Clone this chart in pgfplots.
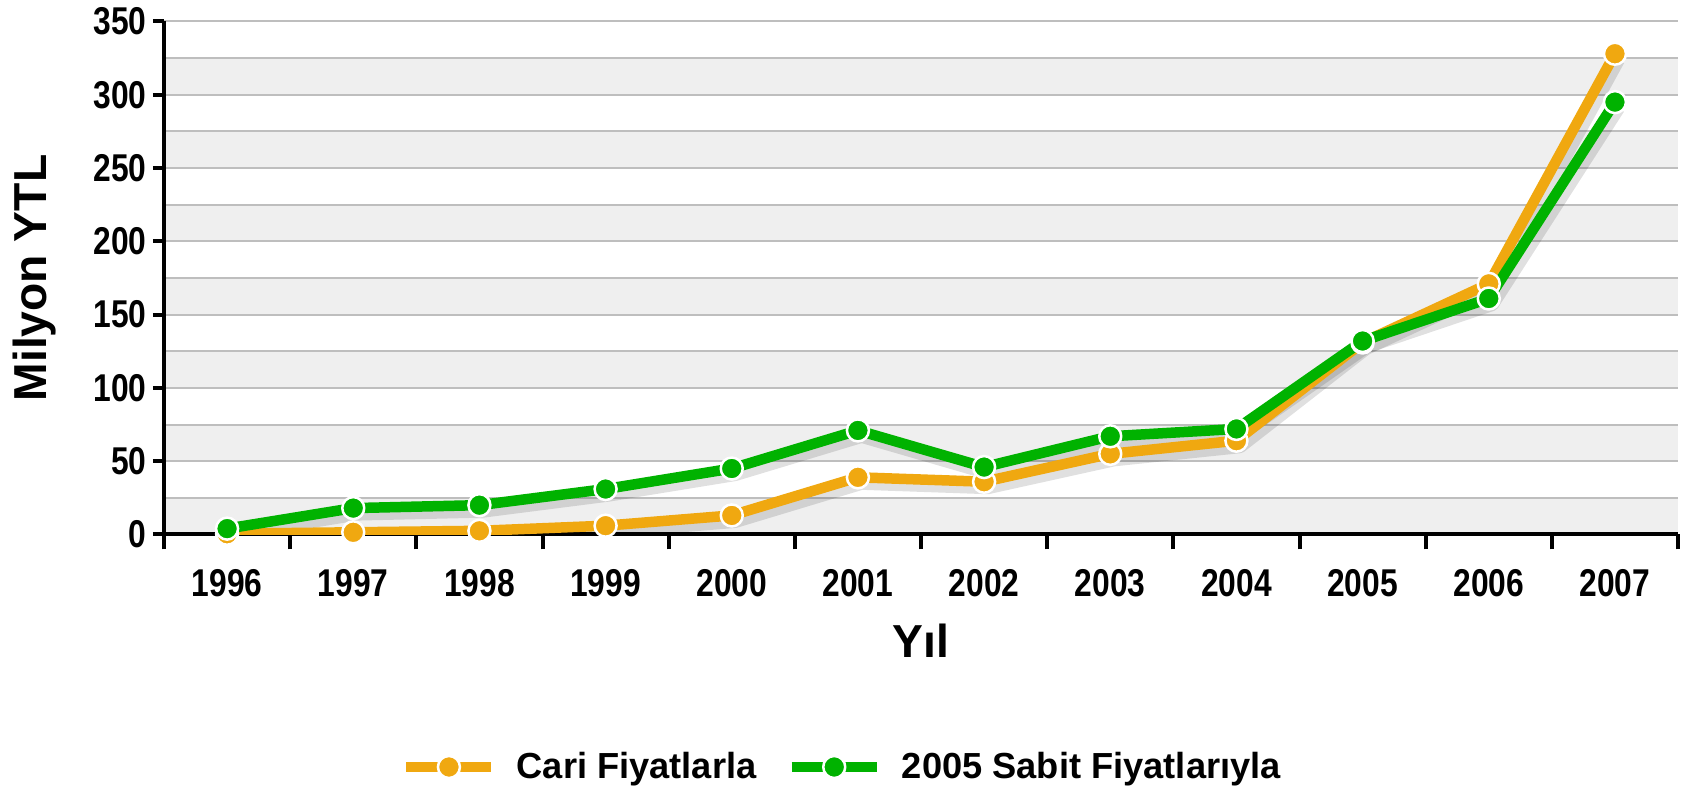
\documentclass[border=0pt]{standalone}
\usepackage{fontspec}
\setmainfont{Liberation Sans}[FakeStretch=0.82]
\newfontfamily\plainfont{Liberation Sans}
\usepackage{pgfplots}
\usepackage{pgfplotstable}
\pgfplotsset{compat=1.18}

\definecolor{cari}{RGB}{240,168,16}
\definecolor{sabit}{RGB}{0,178,0}
\definecolor{band}{RGB}{239,239,239}
\definecolor{gridc}{RGB}{190,190,190}

% x: 0 = 1996 ... 11 = 2007
\pgfplotstableread{
x y
0 0.5
1 1.5
2 2.5
3 6
4 13
5 39
6 36
7 55
8 64
9 131
10 171
11 328
}\cari

\pgfplotstableread{
x y
0 4
1 18
2 20
3 31
4 45
5 71
6 46
7 67
8 72
9 132
10 161
11 295
}\sabit

\begin{document}
\begin{tikzpicture}
\begin{axis}[
  set layers,
  scale only axis,
  width=605.6pt, height=205.2pt,
  xmin=-0.5, xmax=11.5,
  ymin=0, ymax=350,
  axis lines*=left,
  axis line style={line width=1.6pt, black},
  xtick={0,...,11},
  xticklabels={1996,1997,1998,1999,2000,2001,2002,2003,2004,2005,2006,2007},
  minor xtick={-0.5,0.5,...,11.5},
  major x tick style={draw=none},
  minor x tick style={line width=1.6pt, black},
  minor tick length=6pt,
  ytick={0,50,...,350},
  y tick style={line width=1.6pt, black},
  major tick length=4.5pt,
  tick align=outside,
  ymajorgrids,
  extra y ticks={25,75,...,325},
  extra y tick labels={},
  extra y tick style={major tick length=0pt, grid=major},
  grid style={gridc, line width=0.8pt},
  /pgf/number format/assume math mode=true,
  ticklabel style={font=\bfseries\fontsize{15.5}{18}\selectfont},
  xticklabel shift=6pt,
  yticklabel shift=-1pt,
  xlabel={Yıl},
  ylabel={Milyon YTL},
  every axis x label/.style={at={(axis description cs:0.5,0)}, anchor=center, yshift=-42.6pt,
    font=\plainfont\bfseries\fontsize{18.5}{21}\selectfont},
  every axis y label/.style={at={(axis description cs:-0.0852,0.5)}, rotate=90, anchor=center,
    font=\plainfont\bfseries\fontsize{18.5}{21}\selectfont},
  legend columns=2,
  legend style={at={(0.5,0)}, anchor=center, xshift=-31pt, yshift=-93pt, draw=none, fill=none,
    font=\plainfont\bfseries\fontsize{14.5}{17}\selectfont,
    /tikz/every odd column/.append style={column sep=6pt},
    /tikz/every even column/.append style={column sep=10pt}},
  legend image code/.code={\draw[mark repeat=2, mark phase=2, #1] plot coordinates {(0pt,0pt) (17pt,0pt) (34pt,0pt)};},
  every axis plot/.append style={line width=4.2pt, mark=*, mark size=4.4pt, line join=round},
]
\begin{pgfonlayer}{axis background}
\pgfplotsinvokeforeach{0,50,...,300}{
  \fill[band] (axis cs:-0.5,#1) rectangle (axis cs:11.5,#1+25);
}
\end{pgfonlayer}

% soft shadows
\addplot[black, opacity=0.12, line width=5pt, no markers, forget plot, xshift=1.5pt, yshift=-2.5pt] table {\cari};
\addplot[black, opacity=0.12, line width=5pt, no markers, forget plot, xshift=1.5pt, yshift=-2.5pt] table {\sabit};

\addplot[cari, mark options={fill=cari, draw=white, line width=1pt}] table {\cari};
\addlegendentry{Cari Fiyatlarla}
\addplot[sabit, mark options={fill=sabit, draw=white, line width=1pt}] table {\sabit};
\addlegendentry{2005 Sabit Fiyatlarıyla}
\end{axis}
\pgfresetboundingbox
\path ([xshift=-65.6pt, yshift=-102.6pt]current axis.south west) rectangle ([xshift=2pt, yshift=8.6pt]current axis.north east);
\end{tikzpicture}
\end{document}
